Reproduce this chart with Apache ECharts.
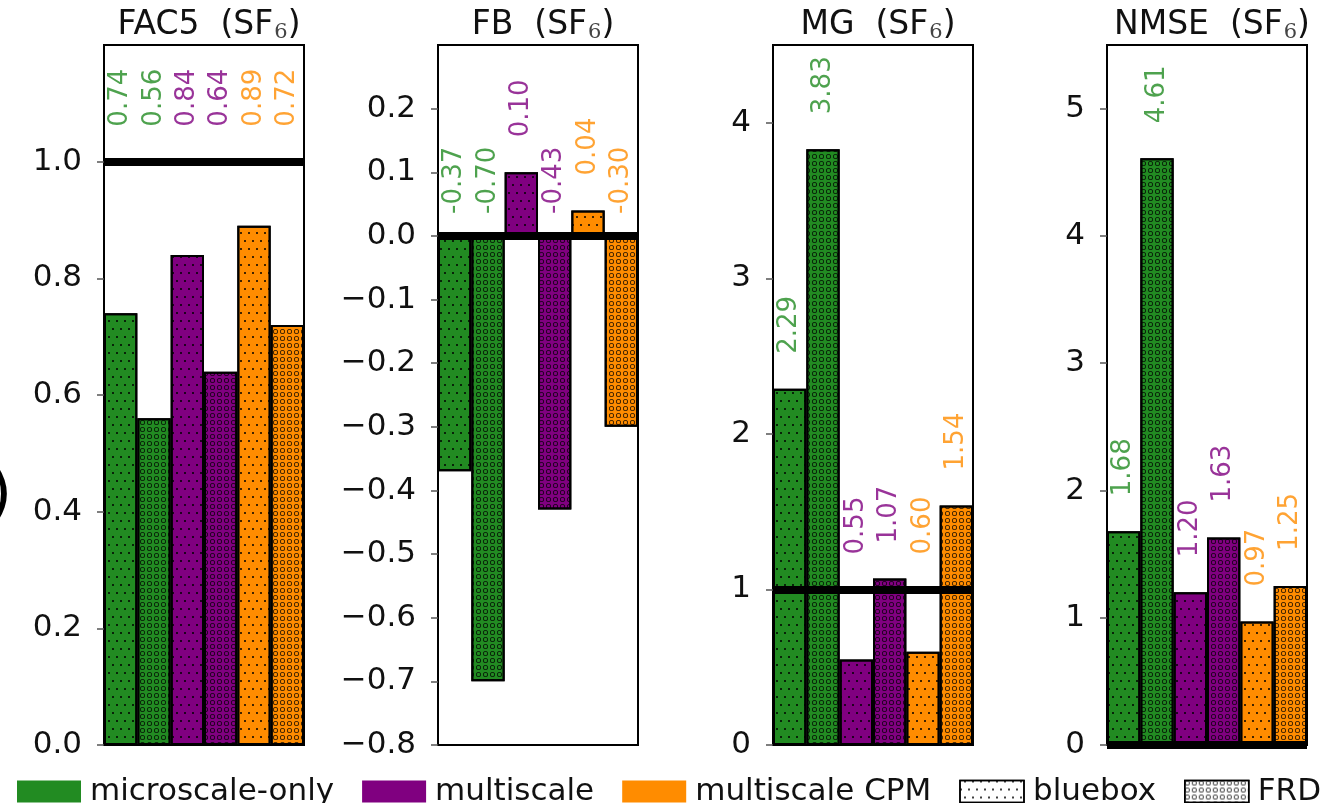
<!DOCTYPE html>
<html>
<head>
<meta charset="utf-8">
<script src="https://cdn.jsdelivr.net/npm/echarts@6/dist/echarts.min.js"></script>
<style>
html,body{margin:0;padding:0;background:#fff;}
#chart{width:1328px;height:803px;}
</style>
</head>
<body>
<div id="chart"></div>
<script>
// ---- data ----
const panelNames = ['FAC5', 'FB', 'MG', 'NMSE'];
const models = ['microscale-only', 'multiscale', 'multiscale CPM'];
const cases = ['bluebox', 'FRD'];
const categories = ['microscale-only bluebox', 'microscale-only FRD', 'multiscale bluebox', 'multiscale FRD', 'multiscale CPM bluebox', 'multiscale CPM FRD'];
const fac5Values = [0.74, 0.56, 0.84, 0.64, 0.89, 0.72];
const fbValues = [-0.37, -0.70, 0.10, -0.43, 0.04, -0.30];
const mgValues = [2.29, 3.83, 0.55, 1.07, 0.60, 1.54];
const nmseValues = [1.68, 4.61, 1.20, 1.63, 0.97, 1.25];
const referenceValues = [1, 0, 1, 0];
const fac5Ticks = [0.0, 0.2, 0.4, 0.6, 0.8, 1.0];
const fbTicks = [-0.8, -0.7, -0.6, -0.5, -0.4, -0.3, -0.2, -0.1, 0.0, 0.1, 0.2];
const mgTicks = [0, 1, 2, 3, 4];
const nmseTicks = [0, 1, 2, 3, 4, 5];
const axisMin = [0, -0.8, 0, 0];
const axisMax = [1.2, 0.3, 4.5, 5.5];

const panelValues = [fac5Values, fbValues, mgValues, nmseValues];
const panelTicks = [fac5Ticks, fbTicks, mgTicks, nmseTicks];
const tickDecimals = [1, 1, 0, 0];

// ---- styles ----
const modelColors = ['#228B22', '#800080', '#FF8C00'];
const FONT = '"DejaVu Sans", "Liberation Sans", sans-serif';
const gridLefts = [104, 438, 773, 1107];
const gridWidth = 200, gridTop = 45, gridHeight = 700;

const ringPath = 'path://M10,0 A10,10 0 1,1 10,20 A10,10 0 1,1 10,0 Z M10,3.2 A6.8,6.8 0 1,0 10,16.8 A6.8,6.8 0 1,0 10,3.2 Z';
const dotDecal = {
  symbol: 'circle', symbolSize: 1, color: '#000',
  dashArrayX: [[2, 6], [0, 4, 2, 2]], dashArrayY: [2, 6]
};
const ringDecal = {
  symbol: ringPath, symbolSize: 1, color: 'rgba(0,0,0,0.85)',
  dashArrayX: [4.6, 1.6], dashArrayY: [4.6, 1.6]
};
const caseDecals = [dotDecal, ringDecal];

const grids = [], xAxes = [], yAxes = [], titles = [], series = [];

panelNames.forEach((name, p) => {
  grids.push({left: gridLefts[p], top: gridTop, width: gridWidth, height: gridHeight,
    show: true, borderColor: '#000', borderWidth: 2, backgroundColor: '#fff'});
  xAxes.push({type: 'category', gridIndex: p, data: categories,
    axisLine: {show: false}, axisTick: {show: false}, axisLabel: {show: false}, splitLine: {show: false}});
  const dec = tickDecimals[p];
  yAxes.push({type: 'value', gridIndex: p, min: axisMin[p], max: axisMax[p],
    axisLine: {show: false}, splitLine: {show: false},
    axisTick: {show: true, length: 7, customValues: panelTicks[p], lineStyle: {color: '#555', width: 1.5}},
    axisLabel: {customValues: panelTicks[p], margin: 22, fontSize: 31, fontFamily: FONT, color: '#111',
      formatter: v => v.toFixed(dec).replace('-', '\u2212')}
  });
  titles.push({text: name + '  (SF{sub|6})', left: gridLefts[p] + gridWidth / 2, top: 3, textAlign: 'center',
    textStyle: {fontSize: 33, fontFamily: FONT, fontWeight: 'normal', color: '#111',
      rich: {sub: {fontSize: 21, fontFamily: '"DejaVu Serif", serif', color: '#444', padding: [14, 0, 0, 1]}}}});

  const vals = panelValues[p];
  models.forEach((m, k) => {
    const s = {
      type: 'bar', name: m, xAxisIndex: p, yAxisIndex: p,
      barWidth: '100%', barGap: '-100%',
      itemStyle: {color: modelColors[k], borderColor: '#000', borderWidth: 2},
      data: vals.map((v, i) => Math.floor(i / 2) === k ? {value: v, itemStyle: {decal: caseDecals[i % 2]}} : '-')
    };
    if (k === 0) {
      s.markLine = {silent: true, symbol: 'none', z: 5, label: {show: false},
        lineStyle: {color: '#000', width: 8, type: 'solid'},
        data: [{yAxis: referenceValues[p]}]};
    }
    series.push(s);
  });
  // value labels anchored at max(value, reference)
  series.push({
    type: 'scatter', xAxisIndex: p, yAxisIndex: p, symbolSize: 0, silent: true, z: 6,
    data: vals.map((v, i) => {
      const below = v < referenceValues[p];
      return {
        value: [i, Math.max(v, referenceValues[p])],
        label: {
          show: true, position: 'top', rotate: 90, align: 'left', verticalAlign: 'middle',
          distance: (below && referenceValues[p] === 0) ? 22 : 35,
          fontSize: 26, fontFamily: FONT, color: modelColors[Math.floor(i / 2)],
          formatter: v.toFixed(2)
        }
      };
    })
  });
});

// hidden coordinate system for legend-only series
grids.push({left: 0, top: 0, width: 1, height: 1, show: false});
xAxes.push({type: 'category', gridIndex: 4, show: false, data: ['-']});
yAxes.push({type: 'value', gridIndex: 4, show: false});
cases.forEach((c, j) => {
  series.push({type: 'bar', name: c, xAxisIndex: 4, yAxisIndex: 4, data: [],
    itemStyle: {color: '#fff', borderColor: '#000', borderWidth: 1, decal: caseDecals[j]}});
});

const chart = echarts.init(document.getElementById('chart'), null, {renderer: 'canvas'});
chart.setOption({
  animation: false,
  backgroundColor: '#fff',
  title: titles,
  grid: grids,
  xAxis: xAxes,
  yAxis: yAxes,
  legend: {
    left: 12, top: 771, icon: 'rect', itemWidth: 64, itemHeight: 22, itemGap: 28,
    selectedMode: false,
    textStyle: {fontSize: 31, fontFamily: FONT, color: '#111', padding: [0, 0, 0, 4]},
    data: models.map(m => ({name: m, itemStyle: {borderWidth: 0}}))
      .concat(cases.map(c => ({name: c, itemStyle: {borderWidth: 1.5, borderColor: '#000'}})))
  },
  graphic: [{type: 'text', left: -12, top: 466, silent: true,
    style: {text: ')', font: '62px "DejaVu Sans"', fill: '#000'}}],
  series: series
});
</script>
</body>
</html>
